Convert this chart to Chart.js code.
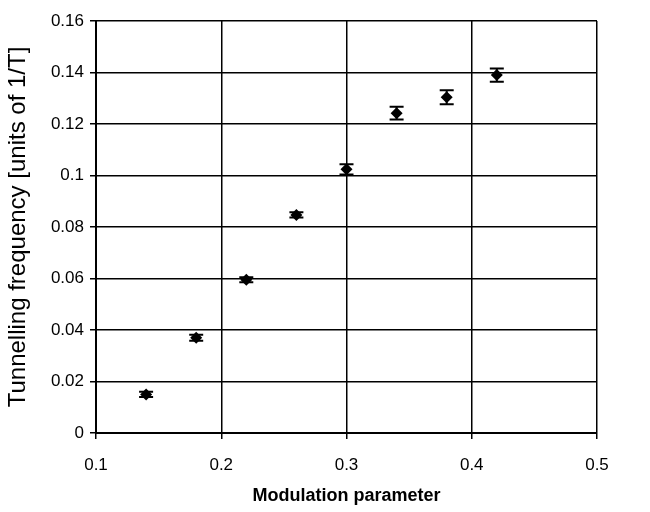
<!DOCTYPE html>
<html>
<head>
<meta charset="utf-8">
<script src="https://cdn.jsdelivr.net/npm/chart.js@4"></script>
<style>
  html, body { margin: 0; padding: 0; background: #fff; }
</style>
</head>
<body>
<canvas id="myChart" width="650" height="512"></canvas>
<script>
// data
const modulation = [0.14, 0.18, 0.22, 0.26, 0.30, 0.34, 0.38, 0.42];
const frequency = [0.015, 0.037, 0.0595, 0.0847, 0.1024, 0.1242, 0.1304, 0.139];
const freqError = [0.001, 0.0012, 0.001, 0.001, 0.002, 0.0025, 0.0027, 0.0026];
const xTicks = [0.1, 0.2, 0.3, 0.4, 0.5];
const yTicks = [0, 0.02, 0.04, 0.06, 0.08, 0.1, 0.12, 0.14, 0.16];

// error bars drawn through the chart scales
const errorBars = {
  id: "errorBars",
  afterDatasetsDraw(chart) {
    const ctx = chart.ctx;
    const xs = chart.scales.x;
    const ys = chart.scales.y;
    ctx.save();
    ctx.strokeStyle = "#000";
    ctx.lineWidth = 2;
    modulation.forEach((m, i) => {
      const px = xs.getPixelForValue(m);
      const top = ys.getPixelForValue(frequency[i] + freqError[i]);
      const bot = ys.getPixelForValue(frequency[i] - freqError[i]);
      ctx.beginPath();
      ctx.moveTo(px, top);
      ctx.lineTo(px, bot);
      ctx.moveTo(px - 7, top);
      ctx.lineTo(px + 7, top);
      ctx.moveTo(px - 7, bot);
      ctx.lineTo(px + 7, bot);
      ctx.stroke();
    });
    ctx.restore();
  },
};

const plain = (v) => String(+Number(v).toFixed(3));

new Chart(document.getElementById("myChart").getContext("2d"), {
  type: "scatter",
  data: {
    datasets: [
      {
        data: modulation.map((m, i) => ({ x: m, y: frequency[i] })),
        pointStyle: "rectRot",
        pointRadius: 6,
        backgroundColor: "#000",
        borderColor: "#000",
        borderWidth: 0,
      },
    ],
  },
  options: {
    responsive: false,
    animation: false,
    layout: { padding: { left: 0, right: 53, top: 21, bottom: 0 } },
    plugins: { legend: { display: false }, tooltip: { enabled: false } },
    scales: {
      x: {
        type: "linear",
        min: 0.1,
        max: 0.5,
        afterFit: (s) => { s.height = 79; },
        afterBuildTicks: (s) => { s.ticks = xTicks.map((v) => ({ value: v })); },
        grid: { color: "#000", lineWidth: 1.5, tickLength: 6 },
        border: { color: "#000", width: 2 },
        ticks: { color: "#000", padding: 16, callback: plain, font: { family: "Liberation Sans", size: 17 } },
        title: {
          display: true,
          text: "Modulation parameter",
          color: "#000",
          padding: { top: 0, bottom: 5 },
          font: { family: "Liberation Sans", size: 18, weight: "bold" },
        },
      },
      y: {
        type: "linear",
        min: 0,
        max: 0.16,
        afterFit: (s) => { s.width = 96; },
        afterBuildTicks: (s) => { s.ticks = yTicks.map((v) => ({ value: v })); },
        grid: { color: "#000", lineWidth: 1.5, tickLength: 6 },
        border: { color: "#000", width: 2 },
        ticks: { color: "#000", padding: 6, callback: plain, font: { family: "Liberation Sans", size: 17 } },
        title: {
          display: true,
          text: "Tunnelling frequency [units of 1/T]",
          color: "#000",
          padding: { top: 4, bottom: 0 },
          font: { family: "Liberation Sans", size: 24 },
        },
      },
    },
  },
  plugins: [errorBars],
});
</script>
</body>
</html>
